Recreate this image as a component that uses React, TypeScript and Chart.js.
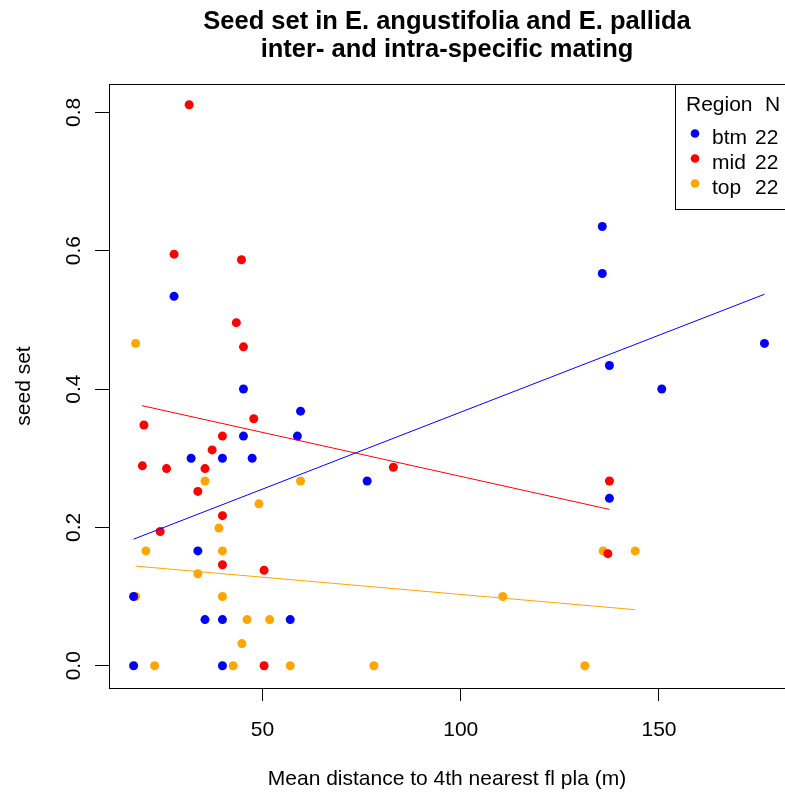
import React, { useEffect, useRef } from "react";
import { Chart, registerables } from "chart.js";
Chart.register(...registerables);

const titleLines = ["Seed set in E. angustifolia and E. pallida", "inter- and intra-specific mating"];
const xAxisTitle = "Mean distance to 4th nearest fl pla (m)";
const yAxisTitle = "seed set";

const xTicks = [50, 100, 150];
const yTicks = [0, 0.2, 0.4, 0.6, 0.8];

const legendTitle = ["Region", "N"];
const regions = ["btm", "mid", "top"];
const regionN = [22, 22, 22];
const regionColors = ["#0000FF", "#FF0000", "#FFA500"];

const btmX = [27.7, 45.2, 59.6, 45.2, 58.8, 32.0, 39.9, 47.4, 33.7, 17.5, 35.5, 39.9, 57.0, 17.5, 39.9, 76.4, 135.7, 135.7, 176.6, 137.5, 150.7, 137.5];
const btmY = [0.534, 0.4, 0.368, 0.332, 0.332, 0.3, 0.3, 0.3, 0.166, 0.1, 0.0667, 0.0667, 0.0667, 0, 0, 0.267, 0.635, 0.567, 0.466, 0.434, 0.4, 0.242];

const midX = [31.5, 27.7, 44.7, 43.4, 45.2, 47.8, 20.1, 39.9, 37.3, 19.7, 25.8, 35.5, 33.7, 39.9, 24.2, 39.9, 50.4, 50.4, 83.0, 137.5, 137.1];
const midY = [0.811, 0.595, 0.587, 0.496, 0.461, 0.357, 0.348, 0.332, 0.312, 0.289, 0.285, 0.285, 0.252, 0.217, 0.194, 0.146, 0.138, 0, 0.287, 0.267, 0.162];

const topX = [18.0, 35.5, 59.6, 49.1, 39.0, 20.6, 39.9, 33.7, 18.0, 39.9, 46.1, 51.8, 44.8, 22.8, 42.6, 57.0, 78.1, 110.6, 135.9, 144.0, 131.3];
const topY = [0.466, 0.267, 0.267, 0.234, 0.199, 0.166, 0.166, 0.133, 0.1, 0.1, 0.0667, 0.0667, 0.032, 0, 0, 0, 0, 0.1, 0.166, 0.166, 0];

// fitted trend lines (endpoints)
const btmFitX = [17.5, 176.6];
const btmFitY = [0.183, 0.537];
const midFitX = [19.6, 137.5];
const midFitY = [0.376, 0.226];
const topFitX = [18.0, 144.0];
const topFitY = [0.144, 0.081];

const FONT = "'Liberation Sans', Arial, Helvetica, sans-serif";
const BASE = 21;
const TITLE = 25.5;

function pts(xs: number[], ys: number[]) {
  return xs.map((x, i) => ({ x, y: ys[i] }));
}

export default function App() {
  const ref = useRef<HTMLCanvasElement>(null);
  useEffect(() => {
    document.body.style.margin = "0";
    const canvas = ref.current!;

    const decor = {
      id: "decor",
      afterDraw(chart: any) {
        const ctx = chart.ctx as CanvasRenderingContext2D;
        const a = chart.chartArea;
        const xs = chart.scales.x;
        const ys = chart.scales.y;
        ctx.save();
        // plot box
        ctx.strokeStyle = "#000";
        ctx.lineWidth = 1;
        ctx.strokeRect(Math.round(a.left) + 0.5, Math.round(a.top) + 0.5, Math.round(a.right - a.left), Math.round(a.bottom - a.top));

        const cx = (a.left + a.right) / 2;
        ctx.fillStyle = "#000";
        ctx.textAlign = "center";
        ctx.textBaseline = "alphabetic";
        // title
        ctx.font = `bold ${TITLE}px ${FONT}`;
        ctx.fillText(titleLines[0], cx, 28.5);
        ctx.fillText(titleLines[1], cx, 56.5);
        // x tick labels
        ctx.font = `${BASE}px ${FONT}`;
        xTicks.forEach((v) => {
          ctx.fillText(String(v), xs.getPixelForValue(v), 736);
        });
        // x-axis title
        ctx.fillText(xAxisTitle, cx, 785);
        // y-axis title
        ctx.save();
        ctx.translate(30, (a.top + a.bottom) / 2);
        ctx.rotate(-Math.PI / 2);
        ctx.fillText(yAxisTitle, 0, 0);
        ctx.restore();
        // y tick labels (rotated, as in R)
        yTicks.forEach((v) => {
          const py = ys.getPixelForValue(v);
          ctx.save();
          ctx.translate(80, py);
          ctx.rotate(-Math.PI / 2);
          ctx.fillText(v.toFixed(1), 0, 0);
          ctx.restore();
        });

        // legend
        const lx = 675, ly = Math.round(a.top), lw = 112, lh = 125;
        ctx.fillStyle = "#fff";
        ctx.fillRect(lx, ly, lw, lh);
        ctx.strokeStyle = "#000";
        ctx.strokeRect(lx + 0.5, ly + 0.5, lw, lh);
        ctx.fillStyle = "#000";
        ctx.textAlign = "left";
        ctx.fillText(legendTitle[0], 686, 110.5);
        ctx.fillText(legendTitle[1], 765, 110.5);
        regions.forEach((r, i) => {
          const y = 144 + i * 25;
          ctx.fillStyle = regionColors[i];
          ctx.beginPath();
          ctx.arc(695, y - 10.5, 4.3, 0, Math.PI * 2);
          ctx.fill();
          ctx.fillStyle = "#000";
          ctx.fillText(r, 712, y);
          ctx.fillText(String(regionN[i]), 755, y);
        });
        ctx.restore();
      },
    };

    const lineDs = (xs: number[], ys: number[], c: string) => ({
      type: "line" as const,
      data: pts(xs, ys),
      borderColor: c,
      borderWidth: 1,
      pointRadius: 0,
      fill: false,
      showLine: true,
    });
    const ptDs = (xs: number[], ys: number[], c: string, label: string) => ({
      type: "scatter" as const,
      label,
      data: pts(xs, ys),
      backgroundColor: c,
      borderColor: c,
      borderWidth: 0,
      pointRadius: 4.5,
      pointHoverRadius: 4.5,
    });

    const chart = new Chart(canvas, {
      type: "scatter",
      data: {
        datasets: [
          lineDs(btmFitX, btmFitY, regionColors[0]),
          lineDs(midFitX, midFitY, regionColors[1]),
          lineDs(topFitX, topFitY, regionColors[2]),
          ptDs(btmX, btmY, regionColors[0], regions[0]),
          ptDs(midX, midY, regionColors[1], regions[1]),
          ptDs(topX, topY, regionColors[2], regions[2]),
        ] as any,
      },
      options: {
        animation: false,
        responsive: false,
        devicePixelRatio: 1,
        events: [],
        layout: { padding: { top: 84, right: 0, left: 0, bottom: 0 }, autoPadding: false },
        plugins: { legend: { display: false }, tooltip: { enabled: false }, title: { display: false } },
        scales: {
          x: {
            type: "linear",
            min: 11.29,
            max: 181.78,
            afterBuildTicks: (s: any) => {
              s.ticks = xTicks.map((v) => ({ value: v }));
            },
            afterFit: (s: any) => {
              s.height = 108;
              s.paddingLeft = 0;
              s.paddingRight = 0;
            },
            grid: { drawOnChartArea: false, drawTicks: true, tickLength: 13, color: "#000", lineWidth: 1 },
            border: { display: true, color: "#000" },
            ticks: { display: false },
          },
          y: {
            type: "linear",
            min: -0.0322,
            max: 0.841,
            afterBuildTicks: (s: any) => {
              s.ticks = yTicks.map((v) => ({ value: v }));
            },
            afterFit: (s: any) => {
              s.width = 109;
              s.paddingTop = 0;
              s.paddingBottom = 0;
            },
            grid: { drawOnChartArea: false, drawTicks: true, tickLength: 14, color: "#000", lineWidth: 1 },
            border: { display: true, color: "#000" },
            ticks: { display: false },
          },
        },
      },
      plugins: [decor],
    } as any);
    return () => chart.destroy();
  }, []);
  return <canvas ref={ref} width={785} height={796} style={{ display: "block" }} />;
}
